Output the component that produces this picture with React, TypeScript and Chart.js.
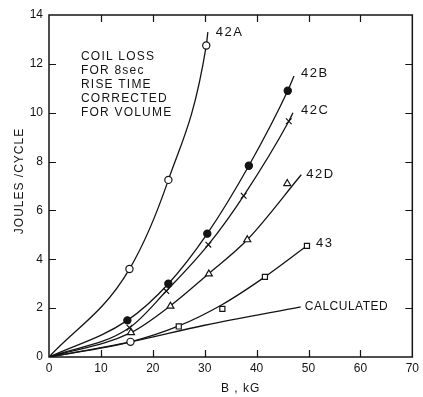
import { useEffect, useRef } from 'react';
import { Chart, registerables } from 'chart.js';

Chart.register(...registerables);

// ---- data (B in kG, energy in joules/cycle) ----
const xTickValues = [0, 10, 20, 30, 40, 50, 60, 70];
const yTickValues = [0, 2, 4, 6, 8, 10, 12, 14];

// measured points (markers)
const mark42A_B = [15.5, 23, 30.3];
const mark42A_J = [3.6, 7.25, 12.75];
const mark42B_B = [15.1, 23, 30.5, 38.5, 46];
const mark42B_J = [1.5, 3.0, 5.05, 7.83, 10.9];
const mark42C_B = [15.5, 22.6, 30.7, 37.5, 46.2];
const mark42C_J = [1.2, 2.7, 4.6, 6.6, 9.65];
const mark42D_B = [15.8, 23.4, 30.8, 38.2, 45.9];
const mark42D_J = [1.0, 2.08, 3.4, 4.8, 7.1];
const mark43_B = [15.7, 25, 33.4, 41.6, 49.7];
const mark43_J = [0.62, 1.25, 1.97, 3.28, 4.55];
const mark43_style = ['circle', 'rect', 'rect', 'rect', 'rect'];

// drawn curves
const line42A_B = [0, 15.5, 23, 30.3, 30.6];
const line42A_J = [0, 3.6, 7.25, 12.75, 13.3];
const line42B_B = [0, 15.1, 23, 30.5, 38.5, 46, 47.2];
const line42B_J = [0, 1.5, 3.0, 5.05, 7.83, 10.9, 11.5];
const line42C_B = [0, 15.5, 22.6, 30.7, 37.5, 46.2, 47];
const line42C_J = [0, 1.2, 2.7, 4.6, 6.6, 9.65, 10.0];
const line42D_B = [0, 15.8, 23.4, 30.8, 38.2, 48.6];
const line42D_J = [0, 1.0, 2.1, 3.42, 4.8, 7.46];
const line43_B = [0, 15.7, 25, 33.4, 41.6, 49.7];
const line43_J = [0, 0.62, 1.27, 2.15, 3.28, 4.55];
const lineCalc_B = [0, 15.7, 30, 48.5];
const lineCalc_J = [0, 0.62, 1.3, 2.05];

const noteLines = ['COIL LOSS', 'FOR 8sec', 'RISE TIME', 'CORRECTED', 'FOR VOLUME'];
const xTitle = 'B , kG';
const yTitle = 'JOULES /CYCLE';

// ---- helpers ----
const INK = '#141414';
const FONT = '"Liberation Sans", Arial, sans-serif';

type P = { x: number; y: number };
const pts = (xs: number[], ys: number[]): P[] => xs.map((x, i) => ({ x, y: ys[i] }));
const last = (a: P[]) => a[a.length - 1];

const lineDs = (data: P[]) => ({
  type: 'line' as const,
  data,
  borderColor: INK,
  borderWidth: 1.3,
  pointRadius: 0,
  fill: false,
  cubicInterpolationMode: 'monotone' as const,
  order: 2,
});

const markDs = (data: P[], style: any, filled: boolean, radius = 3.6) => ({
  type: 'scatter' as const,
  data,
  showLine: false,
  pointStyle: style,
  pointRadius: radius,
  pointBackgroundColor: filled ? INK : '#ffffff',
  pointBorderColor: INK,
  pointBorderWidth: 1.2,
  order: 1,
});

const lA = pts(line42A_B, line42A_J);
const lB = pts(line42B_B, line42B_J);
const lC = pts(line42C_B, line42C_J);
const lD = pts(line42D_B, line42D_J);
const l43 = pts(line43_B, line43_J);
const lCalc = pts(lineCalc_B, lineCalc_J);

// series labels anchored at the end of each curve
const seriesLabels = [
  { text: '42A', at: last(lA), dx: 8, dy: 0, size: 13, sp: '1.5px' },
  { text: '42B', at: last(lB), dx: 7, dy: -3, size: 13, sp: '1.5px' },
  { text: '42C', at: last(lC), dx: 8, dy: -2, size: 13, sp: '1.5px' },
  { text: '42D', at: last(lD), dx: 5, dy: 0, size: 13, sp: '1.5px' },
  { text: '43', at: last(l43), dx: 9, dy: -2, size: 13, sp: '1.5px' },
  { text: 'CALCULATED', at: last(lCalc), dx: 4, dy: 0, size: 12, sp: '0.5px' },
];

const overlay = {
  id: 'overlay',
  afterDatasetsDraw(chart: any) {
    const { ctx, chartArea, scales } = chart;
    const { left, right, top, bottom } = chartArea;
    const x = scales.x;
    const y = scales.y;
    ctx.save();
    ctx.strokeStyle = INK;
    ctx.fillStyle = INK;
    // frame
    ctx.lineWidth = 1.5;
    ctx.strokeRect(left, top, right - left, bottom - top);
    // inward ticks
    ctx.lineWidth = 1.2;
    ctx.beginPath();
    xTickValues.slice(1, -1).forEach((v) => {
      const px = Math.round(x.getPixelForValue(v)) + 0.5;
      ctx.moveTo(px, bottom);
      ctx.lineTo(px, bottom - 7);
      ctx.moveTo(px, top);
      ctx.lineTo(px, top + 7);
    });
    yTickValues.slice(1, -1).forEach((v) => {
      const py = Math.round(y.getPixelForValue(v)) + 0.5;
      ctx.moveTo(left, py);
      ctx.lineTo(left + 7, py);
      ctx.moveTo(right, py);
      ctx.lineTo(right - 7, py);
    });
    ctx.stroke();

    // note block
    ctx.font = `12px ${FONT}`;
    (ctx as any).letterSpacing = '1.2px';
    ctx.textAlign = 'left';
    ctx.textBaseline = 'middle';
    noteLines.forEach((t, i) => {
      ctx.fillText(t, left + 32, top + 42 + i * 14);
    });

    // series labels
    seriesLabels.forEach((l) => {
      const px = x.getPixelForValue(l.at.x) + l.dx;
      const py = y.getPixelForValue(l.at.y) + l.dy;
      (ctx as any).letterSpacing = l.sp;
      ctx.font = `${l.size}px ${FONT}`;
      ctx.fillText(l.text, px, py);
    });

    // axis titles
    (ctx as any).letterSpacing = '1px';
    ctx.font = `12px ${FONT}`;
    ctx.textAlign = 'center';
    ctx.fillText(xTitle, (left + right) / 2 + 10, bottom + 32);
    ctx.save();
    ctx.translate(left - 29, (top + bottom) / 2 - 5);
    ctx.rotate(-Math.PI / 2);
    ctx.fillText(yTitle, 0, 0);
    ctx.restore();
    ctx.restore();
  },
};

export default function App() {
  const ref = useRef<HTMLCanvasElement>(null);
  useEffect(() => {
    document.body.style.margin = '0';
    const chart = new Chart(ref.current as HTMLCanvasElement, {
      type: 'line',
      data: {
        datasets: [
          lineDs(lA),
          lineDs(lB),
          lineDs(lC),
          lineDs(lD),
          lineDs(l43),
          lineDs(lCalc),
          markDs(pts(mark42A_B, mark42A_J), 'circle', false),
          markDs(pts(mark42B_B, mark42B_J), 'circle', true),
          markDs(pts(mark42C_B, mark42C_J), 'crossRot', false, 4),
          markDs(pts(mark42D_B, mark42D_J), 'triangle', false, 4),
          markDs(pts(mark43_B, mark43_J), mark43_style, false, 3.6),
        ] as any,
      },
      options: {
        responsive: false,
        animation: false,
        devicePixelRatio: 1,
        layout: { padding: { top: 15, right: 10, left: 0, bottom: 0 } },
        plugins: { legend: { display: false }, tooltip: { enabled: false } },
        scales: {
          x: {
            type: 'linear',
            min: 0,
            max: 70,
            afterBuildTicks: (s: any) => {
              s.ticks = xTickValues.map((v) => ({ value: v }));
            },
            afterFit: (s: any) => {
              s.height = 40;
            },
            ticks: { color: INK, font: { family: FONT, size: 12 }, padding: 4, maxRotation: 0 },
            grid: { display: false, drawTicks: false },
            border: { display: false },
          },
          y: {
            type: 'linear',
            min: 0,
            max: 14,
            afterBuildTicks: (s: any) => {
              s.ticks = yTickValues.map((v) => ({ value: v }));
            },
            afterFit: (s: any) => {
              s.width = 49;
            },
            ticks: { color: INK, font: { family: FONT, size: 12 }, padding: 6 },
            grid: { display: false, drawTicks: false },
            border: { display: false },
          },
        },
      },
      plugins: [overlay],
    });
    return () => chart.destroy();
  }, []);
  return (
    <div style={{ width: 423, height: 397, background: '#fff' }}>
      <canvas ref={ref} width={423} height={397} style={{ display: 'block' }} />
    </div>
  );
}
